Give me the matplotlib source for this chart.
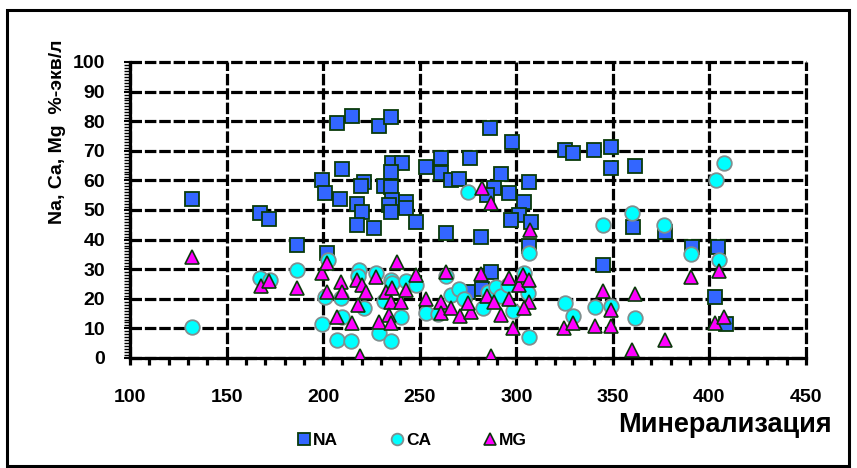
import matplotlib
matplotlib.use("Agg")
from matplotlib import pyplot as plt
from matplotlib.patches import Rectangle
from matplotlib.ticker import MultipleLocator

plt.rcParams['font.family'] = ['Liberation Sans', 'DejaVu Sans']
plt.rcParams['font.weight'] = 'bold'

# NA (x = минерализация, y = %-экв)
na_x = [132, 167.5, 171.8, 186.5, 199.5, 201.2, 202, 207.3, 215.1, 229, 235,
        209.9, 208.5, 221, 219.4, 217.7, 220.3, 217.7, 226.3, 235.8, 240.6,
        235, 231.5, 235, 235.8, 234.1, 242.8, 242.8, 235, 248, 253.2, 261,
        261, 266.1, 270.5, 276.2, 286.6, 263.5, 297.8, 325, 329.3, 340.4,
        349.2, 348.9, 361.3, 292.1, 288.6, 296.4, 306.8, 285, 303.8, 301.6,
        297.2, 307.7, 306.8, 281.6, 344.9, 286.9, 274.8, 282.5, 360.2, 376.8,
        390.8, 404.6, 402.9, 408.4]
na_y = [53.6, 49, 47, 38.2, 60.3, 55.7, 35.4, 79.3, 81.8, 78.4, 81.3,
        63.8, 53.6, 59.6, 58.1, 52, 49.4, 45.1, 44, 65.8, 66,
        62.7, 58.1, 57.7, 53.4, 51.7, 52.8, 50.6, 49.4, 46, 64.6, 67.4,
        62.4, 60.1, 60.4, 67.4, 77.6, 42.2, 73.1, 70.2, 69.4, 70.3,
        71.4, 64.1, 64.7, 62, 57.3, 55.7, 59.4, 55, 52.8, 48.3,
        46.6, 45.9, 38, 40.8, 31.4, 29.2, 22.4, 23.3, 44.1, 42.7,
        37.6, 37.6, 20.6, 11.6]

# CA
ca_x = [132, 167.5, 172.7, 186.5, 199.5, 201, 202.5, 209, 209.9, 218.5, 218,
        221, 227.2, 235, 235.5, 231.5, 240.2, 242.8, 248, 253.2, 263.5,
        259.3, 266.1, 270.5, 273, 282.6, 285.2, 289.5, 292.1, 295.9, 298.2,
        304.2, 306.3, 306.8, 306.8, 274.8, 229, 207.3, 214.5, 235, 325,
        329.5, 340.6, 349.2, 361.3, 344.9, 360, 376.7, 390.6, 404.8, 403.5,
        407.5]
ca_y = [10.6, 26.9, 26.4, 29.7, 11.5, 20.7, 33, 20.4, 14, 29.7, 27.7,
        16.9, 28.6, 26.4, 25.5, 19.3, 13.7, 26, 24.7, 15.2, 27.7,
        15, 21.3, 23.3, 20, 16.8, 22.4, 24.1, 21.1, 24.7, 15.9,
        28.8, 21.9, 7.2, 35.6, 56.2, 8.3, 6.1, 5.6, 5.9, 18.5,
        14.1, 17.1, 17.6, 13.4, 44.8, 48.9, 44.8, 35.3, 33, 60.2,
        65.9]

# MG
mg_x = [132, 167.9, 172.2, 186.5, 199.5, 202, 202, 207, 209, 210, 215.1,
        218, 217.7, 220.3, 222, 218.9, 227.2, 229, 232.4, 235.5, 235, 234.1,
        235.2, 238.3, 240.2, 242.8, 248, 253.5, 261, 261, 263.5, 266.1,
        270.8, 276.3, 275, 281.7, 284.8, 288.6, 292.1, 296.4, 296.4, 298.2,
        301.6, 303.4, 306.8, 306.8, 304.2, 282.2, 286.9, 307.3, 286.7, 324.8,
        329.5, 340.6, 349.2, 349.2, 344.9, 361.3, 360, 376.8, 390.6, 405, 403,
        407.8]
mg_y = [34.2, 24.3, 26.1, 23.5, 28.6, 32, 22.4, 13.8, 25.8, 22.2, 11.7,
        17.9, 26.2, 24.7, 22.4, 0.8, 27.5, 12.3, 22.4, 23.8, 18.9, 14.5,
        11.7, 32.5, 19, 23, 28.2, 19.8, 19, 15.3, 29.2, 16.8,
        14.2, 15.4, 18.5, 28.3, 21.1, 18.8, 14.5, 26.9, 20.1, 10.3,
        24.7, 28.2, 26.4, 19, 16.8, 57.3, 52.4, 43.1, 0.8, 10.1,
        11.7, 10.8, 10.8, 16.2, 22.7, 21.5, 2.8, 6, 27.5, 29.3, 11.7,
        14]

fig = plt.figure(figsize=(8.57, 4.68), dpi=100)
ax = fig.add_axes([130 / 857, 1 - 358 / 468, 676 / 857, 296 / 468])

ax.plot(na_x, na_y, 's', ms=10, mfc='#3366ff', mec='#0a3a0a', mew=1.3,
        label='NA', zorder=3)
ax.plot(ca_x, ca_y, 'o', ms=10.5, mfc='#00ffff', mec='#7f8f8f', mew=1.3,
        label='CA', zorder=4)
ax.plot(mg_x, mg_y, '^', ms=10, mfc='#ff00ff', mec='#0a3a0a', mew=1.2,
        label='MG', zorder=5)

ax.set_xlim(100, 450)
ax.set_ylim(0, 100)
ax.xaxis.set_major_locator(MultipleLocator(50))
ax.xaxis.set_minor_locator(MultipleLocator(10))
ax.yaxis.set_major_locator(MultipleLocator(10))
ax.yaxis.set_minor_locator(MultipleLocator(1))

ax.grid(True, which='major', color='black', lw=2.3, ls=(0, (3.6, 0.9)))
for gl in ax.get_xgridlines() + ax.get_ygridlines():
    gl.set_clip_on(False)
ax.set_axisbelow(True)

for s in ['top', 'right']:
    ax.spines[s].set_visible(False)
for s in ['left', 'bottom']:
    ax.spines[s].set_linewidth(2.3)

ax.tick_params(axis='x', which='both', direction='out', length=5, width=2.3,
               pad=17, labelsize=14)
ax.tick_params(axis='y', which='major', direction='out', length=4, width=1.5,
               pad=14, labelsize=14)
ax.tick_params(axis='y', which='minor', direction='out', length=4, width=1)
for lab in ax.get_xticklabels() + ax.get_yticklabels():
    lab.set_fontweight('bold')

fig.text(57 / 857, 1 - 132 / 468, 'Na, Ca, Mg  %-экв/л', rotation=90,
         ha='center', va='center', fontsize=14, fontweight='bold')
fig.text(832 / 857, 1 - 425 / 468, 'Минерализация', ha='right',
         va='center', fontsize=19.5, fontweight='bold')

ax.legend(loc='center', bbox_to_anchor=(412 / 857, 1 - 440 / 468),
          bbox_transform=fig.transFigure, ncol=3, frameon=False,
          markerscale=0.8, handlelength=0.8, handletextpad=0.1,
          columnspacing=3.0, prop={'weight': 'bold', 'size': 12.5})

fig.patches.append(Rectangle((7 / 857, 2 / 468), 842 / 857, 456 / 468,
                             transform=fig.transFigure, fill=False,
                             ec='black', lw=2.2))

fig.savefig('out.png', dpi=100)
